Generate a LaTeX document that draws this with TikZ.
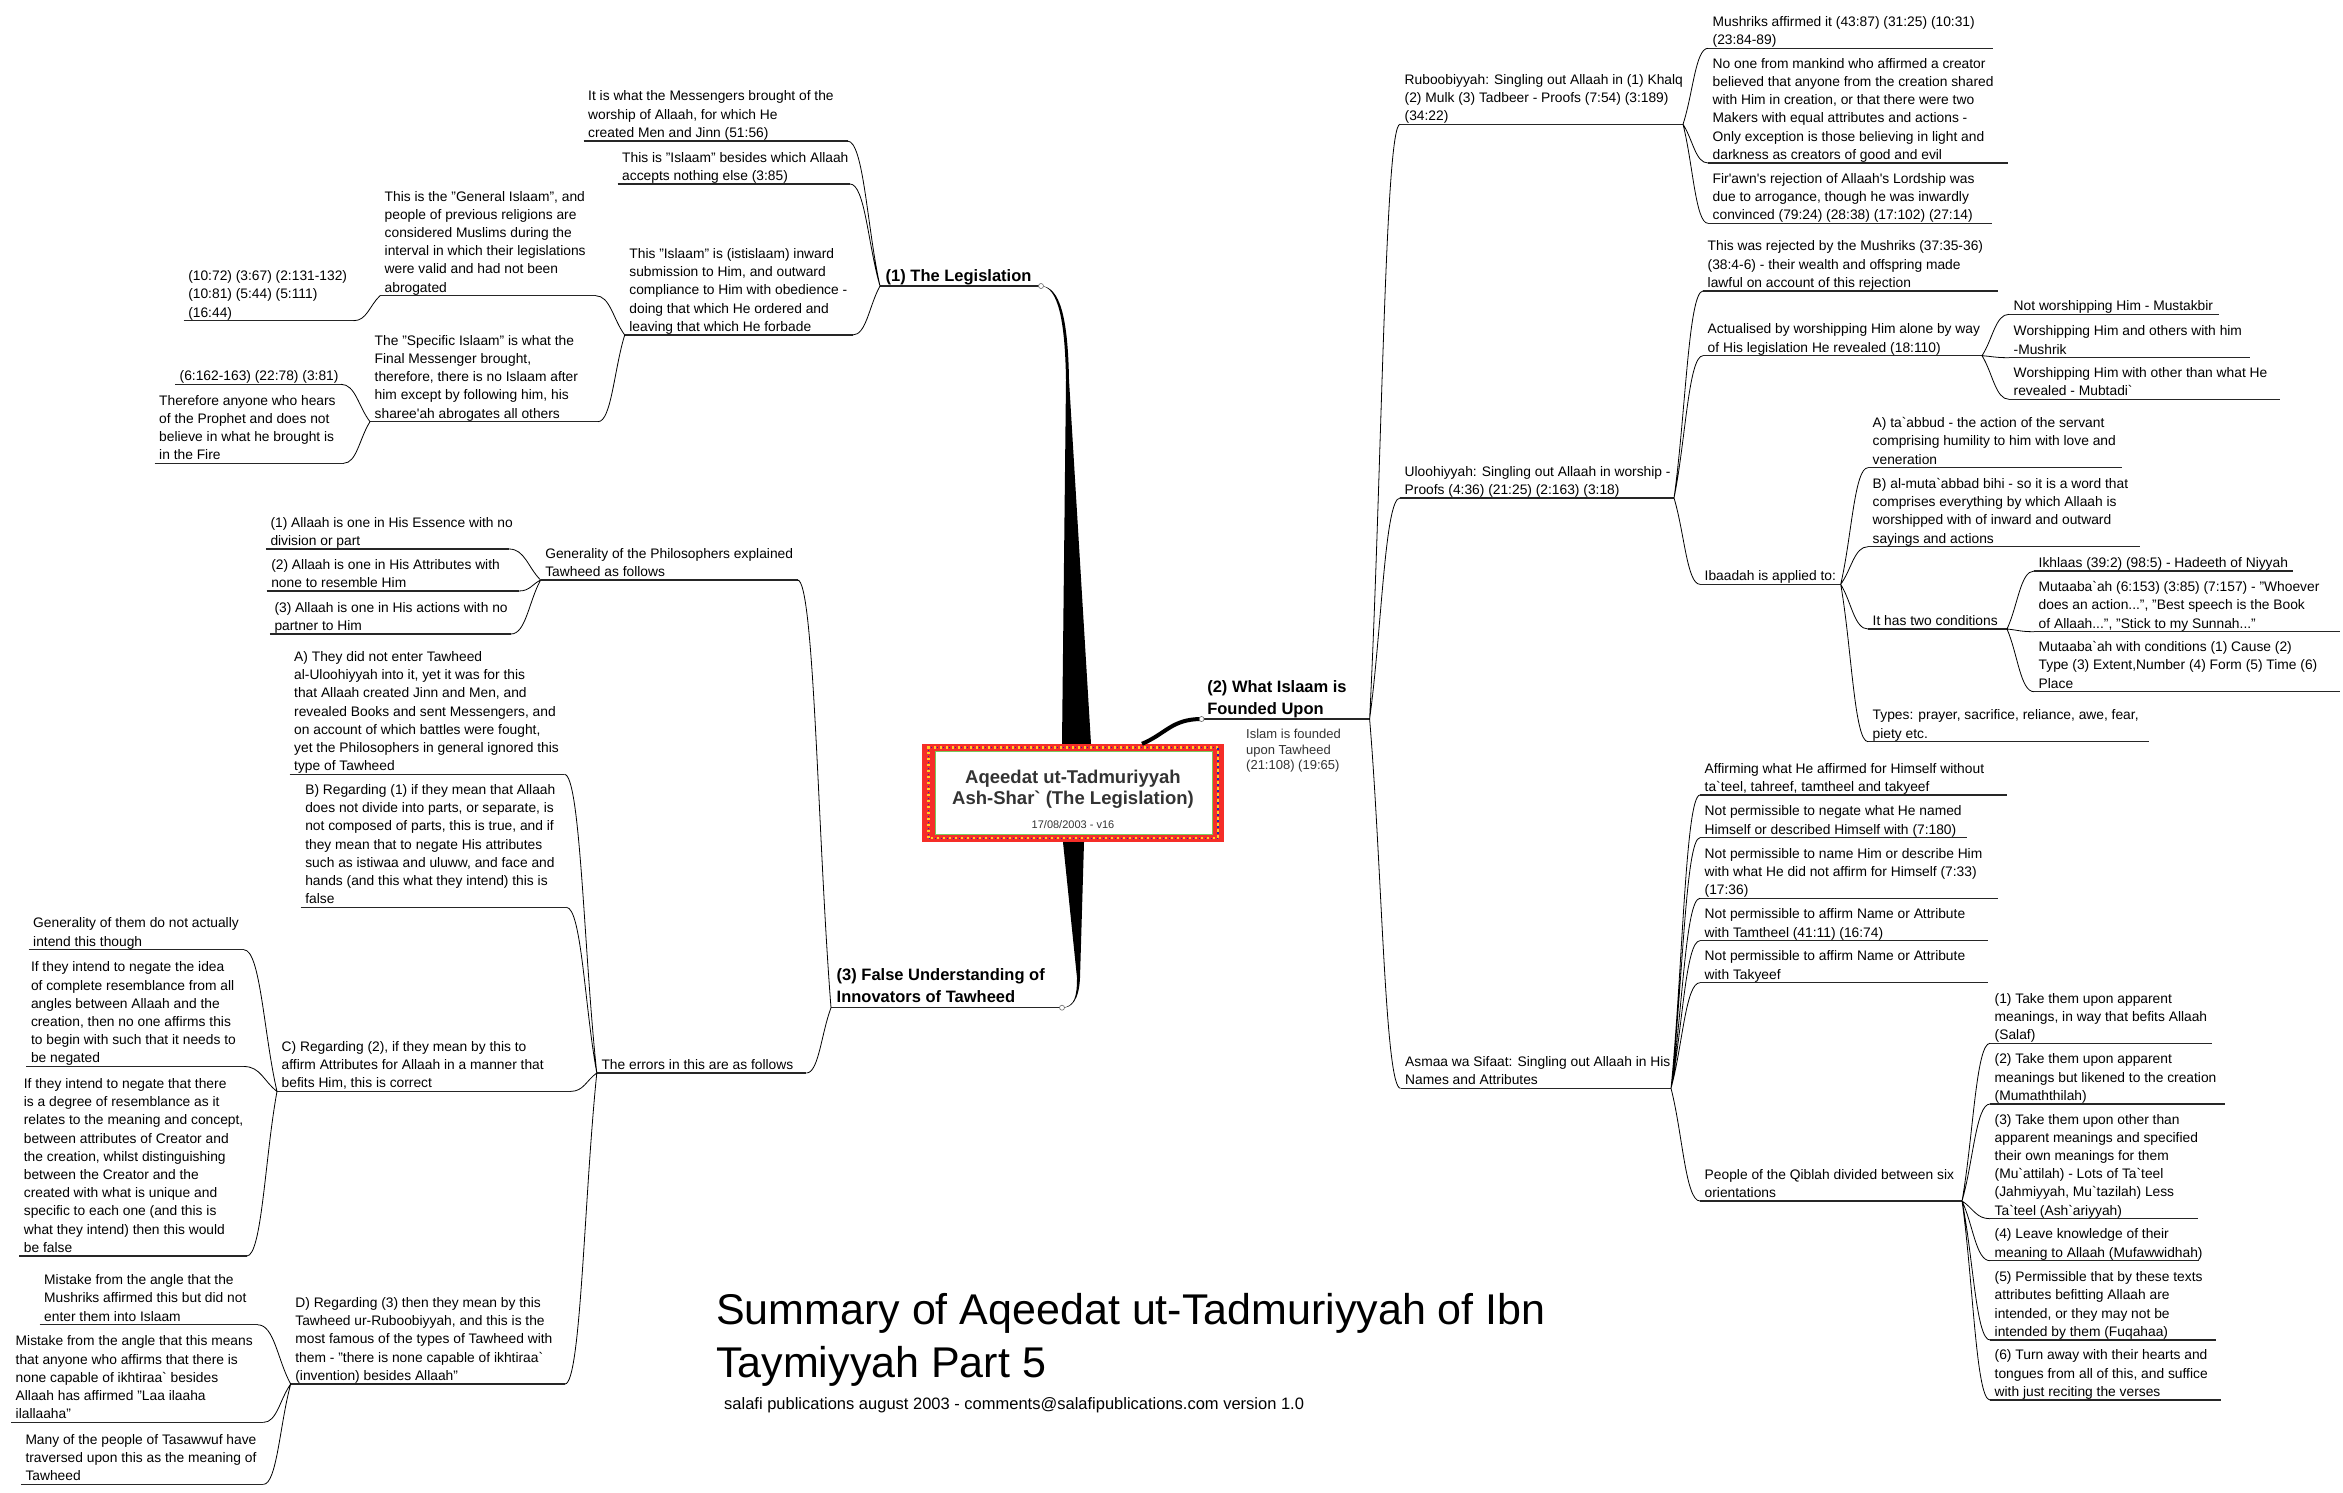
\documentclass[tikz,border=0pt]{standalone}
\usepackage{fontspec}
\setmainfont{Liberation Sans}
\usetikzlibrary{calc}
\newcommand\bq{\textasciigrave}
\newcommand\sq{\textquotesingle}
\newcommand\topicfont{\fontsize{13.8}{18.2}\selectfont}
\newcommand\branchfont{\bfseries\fontsize{16.5}{22}\selectfont}
\definecolor{framered}{RGB}{245,45,40}
\definecolor{framegold}{RGB}{255,205,40}
\definecolor{frameblue}{RGB}{40,40,170}
\definecolor{framegreen}{RGB}{120,200,90}
\tikzset{
  uline/.style={draw=black!85, line width=1.3pt},
  link/.style={draw=black, line width=0.8pt, to path={.. controls ($(\tikztostart)!0.4!(\tikztotarget)$) and ($(\tikztotarget)!0.5!(\tikztostart|-\tikztotarget)$) .. (\tikztotarget)}},
  underline/.style={append after command={(\tikzlastnode.south west) edge[uline] ($(\tikzlastnode.south west)+(#1,0)$) ($(\tikzlastnode.south west)+(#1,0)$) coordinate (\tikzlastnode-e)}},
  topic/.style={underline=#1, anchor=south west, align=left, inner xsep=4.5pt, inner ysep=0.3pt, font=\topicfont, execute at end node={\rule[-3.2pt]{0pt}{3.2pt}}},
  branch/.style={underline=#1, anchor=south west, align=left, inner xsep=5.5pt, inner ysep=0.7pt, font=\branchfont, execute at end node={\rule[-4pt]{0pt}{4pt}}},
  rootbox/.style={fill=framered, minimum width=302pt, minimum height=98pt, inner sep=0pt, align=center, text=black!80,
    font=\bfseries\fontsize{18.5}{21}\selectfont,
    path picture={
      \draw[framegold, line width=2.2pt, dash pattern=on 2.2pt off 3.8pt] ($(path picture bounding box.south west)+(6.5,-3.8)$) rectangle ($(path picture bounding box.north east)+(-6,3.5)$);
      \draw[frameblue, line width=1.4pt, dash pattern=on 1.4pt off 4.6pt, dash phase=-3pt] ($(path picture bounding box.south west)+(6.5,-3.8)$) rectangle ($(path picture bounding box.north east)+(-6,3.5)$);
      \draw[framegreen, fill=white, line width=0.8pt] ($(path picture bounding box.south west)+(13.4,-7.7)$) rectangle ($(path picture bounding box.north east)+(-12,7)$);
    }},
  knob/.style={fill=white, draw=black!60, line width=0.6pt},
}
\begin{document}
\begin{tikzpicture}[x=1pt, y=-1pt]
\useasboundingbox (0,0) rectangle (2343,1493);
\fill[white] (0,0) rectangle (2343,1493);

\node[rootbox] (root) at (1073,793) {\rule{0pt}{26.5pt}Aqeedat ut-Tadmuriyyah\\Ash-Shar\bq{} (The Legislation)\\[2.5pt]\mdseries\fontsize{11}{13}\selectfont 17/08/2003 - v16};

\node[branch=161] (leg) at (880,286) {(1) The Legislation};
\node[branch=168] (found) at (1201.6,719) {(2) What Islaam is\\Founded Upon};
\node[branch=231] (innov) at (831,1007.7) {(3) False Understanding of\\Innovators of Tawheed};
\node[anchor=north west, inner sep=0pt, align=left, text=black!80, font=\fontsize{13}{15.6}\selectfont] (note) at (1246,729) {Islam is founded\\upon Tawheed\\(21:108) (19:65)};

\node[topic=264] (worship) at (583.5,141) {It is what the Messengers brought of the\\worship of Allaah, for which He\\created Men and Jinn (51:56)};
\node[topic=232.5] (accepts) at (617.5,184) {This is "Islaam" besides which Allaah\\accepts nothing else (3:85)};
\node[topic=228] (istislaam) at (624.7,335) {This "Islaam" is (istislaam) inward\\submission to Him, and outward\\compliance to Him with obedience -\\doing that which He ordered and\\leaving that which He forbade};
\node[topic=215.6] (general) at (380,295.7) {This is the "General Islaam", and\\people of previous religions are\\considered Muslims during the\\interval in which their legislations\\were valid and had not been\\abrogated};
\node[topic=170] (genrefs) at (183.6,320.7) {(10:72) (3:67) (2:131-132)\\(10:81) (5:44) (5:111)\\(16:44)};
\node[topic=228] (specific) at (370,421.7) {The "Specific Islaam" is what the\\Final Messenger brought,\\therefore, there is no Islaam after\\him except by following him, his\\sharee\sq ah abrogates all others};
\node[topic=166] (specrefs) at (175,384.3) {(6:162-163) (22:78) (3:81)};
\node[topic=189] (fire) at (154.5,463.3) {Therefore anyone who hears\\of the Prophet and does not\\believe in what he brought is\\in the Fire};

\node[topic=283] (rub) at (1400,124.3) {Ruboobiyyah: Singling out Allaah in (1) Khalq\\(2) Mulk (3) Tadbeer - Proofs (7:54) (3:189)\\(34:22)};
\node[topic=285] (mush) at (1708,48.3) {Mushriks affirmed it (43:87) (31:25) (10:31)\\(23:84-89)};
\node[topic=300] (noone) at (1708,163) {No one from mankind who affirmed a creator\\believed that anyone from the creation shared\\with Him in creation, or that there were two\\Makers with equal attributes and actions -\\Only exception is those believing in light and\\darkness as creators of good and evil};
\node[topic=284] (firawn) at (1708,223.3) {Fir\sq awn\sq s rejection of Allaah\sq s Lordship was\\due to arrogance, though he was inwardly\\convinced (79:24) (28:38) (17:102) (27:14)};

\node[topic=274] (ulu) at (1400,498) {Uloohiyyah: Singling out Allaah in worship -\\Proofs (4:36) (21:25) (2:163) (3:18)};
\node[topic=295] (reject) at (1703,291) {This was rejected by the Mushriks (37:35-36)\\(38:4-6) - their wealth and offspring made\\lawful on account of this rejection};
\node[topic=279] (actual) at (1703,355.7) {Actualised by worshipping Him alone by way\\of His legislation He revealed (18:110)};
\node[topic=210] (mustakbir) at (2009,314.3) {Not worshipping Him - Mustakbir};
\node[topic=241] (mushrik) at (2009,357.7) {Worshipping Him and others with him\\-Mushrik};
\node[topic=270.6] (mubtadi) at (2009,399.3) {Worshipping Him with other than what He\\revealed - Mubtadi\bq};
\node[topic=140.7] (ibaadah) at (1700,584.3) {Ibaadah is applied to:};
\node[topic=254] (taabbud) at (1868,467.7) {A) ta\bq abbud - the action of the servant\\comprising humility to him with love and\\veneration};
\node[topic=271.6] (mutaabbad) at (1868,546.7) {B) al-muta\bq abbad bihi - so it is a word that\\comprises everything by which Allaah is\\worshipped with of inward and outward\\sayings and actions};
\node[topic=139] (twocond) at (1868,629) {It has two conditions};
\node[topic=259] (ikhlaas) at (2034,571) {Ikhlaas (39:2) (98:5) - Hadeeth of Niyyah};
\node[topic=306] (mutaabaah) at (2034,631.7) {Mutaaba\bq ah (6:153) (3:85) (7:157) - "Whoever\\does an action...", "Best speech is the Book\\of Allaah...", "Stick to my Sunnah..."};
\node[topic=306] (mutcond) at (2034,691.7) {Mutaaba\bq ah with conditions (1) Cause (2)\\Type (3) Extent,Number (4) Form (5) Time (6)\\Place};
\node[topic=280.5] (types) at (1868,741.7) {Types: prayer, sacrifice, reliance, awe, fear,\\piety etc.};

\node[topic=270.5] (asma) at (1400.5,1088.3) {Asmaa wa Sifaat: Singling out Allaah in His\\Names and Attributes};
\node[topic=306.6] (affirm) at (1700,795) {Affirming what He affirmed for Himself without\\ta\bq teel, tahreef, tamtheel and takyeef};
\node[topic=266.6] (negate) at (1700,837.7) {Not permissible to negate what He named\\Himself or described Himself with (7:180)};
\node[topic=298] (naming) at (1700,898.3) {Not permissible to name Him or describe Him\\with what He did not affirm for Himself (7:33)\\(17:36)};
\node[topic=287.6] (tamtheel) at (1700,940.7) {Not permissible to affirm Name or Attribute\\with Tamtheel (41:11) (16:74)};
\node[topic=287.6] (takyeef) at (1700,982.7) {Not permissible to affirm Name or Attribute\\with Takyeef};
\node[topic=262] (qiblah) at (1700,1201) {People of the Qiblah divided between six\\orientations};
\node[topic=222] (salaf) at (1990,1043.3) {(1) Take them upon apparent\\meanings, in way that befits Allaah\\(Salaf)};
\node[topic=234.6] (mumath) at (1990,1104) {(2) Take them upon apparent\\meanings but likened to the creation\\(Mumaththilah)};
\node[topic=208] (muattil) at (1990,1218.7) {(3) Take them upon other than\\apparent meanings and specified\\their own meanings for them\\(Mu\bq attilah) - Lots of Ta\bq teel\\(Jahmiyyah, Mu\bq tazilah) Less\\Ta\bq teel (Ash\bq ariyyah)};
\node[topic=208.6] (mufaw) at (1990,1260.7) {(4) Leave knowledge of their\\meaning to Allaah (Mufawwidhah)};
\node[topic=225.7] (fuqahaa) at (1990,1340) {(5) Permissible that by these texts\\attributes befitting Allaah are\\intended, or they may not be\\intended by them (Fuqahaa)};
\node[topic=231] (recite) at (1990,1400) {(6) Turn away with their hearts and\\tongues from all of this, and suffice\\with just reciting the verses};

\node[topic=257] (philo) at (540.6,580) {Generality of the Philosophers explained\\Tawheed as follows};
\node[topic=243.2] (essence) at (265.8,549) {(1) Allaah is one in His Essence with no\\division or part};
\node[topic=252.3] (attrib) at (266.6,591) {(2) Allaah is one in His Attributes with\\none to resemble Him};
\node[topic=241.2] (actions) at (269.8,634) {(3) Allaah is one in His actions with no\\partner to Him};
\node[topic=209.6] (errors) at (596.8,1073) {The errors in this are as follows};
\node[topic=274.9] (erra) at (289.5,774.3) {A) They did not enter Tawheed\\al-Uloohiyyah into it, yet it was for this\\that Allaah created Jinn and Men, and\\revealed Books and sent Messengers, and\\on account of which battles were fought,\\yet the Philosophers in general ignored this\\type of Tawheed};
\node[topic=265.7] (errb) at (300.6,907.3) {B) Regarding (1) if they mean that Allaah\\does not divide into parts, or separate, is\\not composed of parts, this is true, and if\\they mean that to negate His attributes\\such as istiwaa and uluww, and face and\\hands (and this what they intend) this is\\false};
\node[topic=293.5] (errc) at (277,1091.4) {C) Regarding (2), if they mean by this to\\affirm Attributes for Allaah in a manner that\\befits Him, this is correct};
\node[topic=274.3] (errd) at (290.7,1384) {D) Regarding (3) then they mean by this\\Tawheed ur-Ruboobiyyah, and this is the\\most famous of the types of Tawheed with\\them - "there is none capable of ikhtiraa\bq\\(invention) besides Allaah"};
\node[topic=215.5] (notintend) at (28.5,949.8) {Generality of them do not actually\\intend this though};
\node[topic=217.7] (complete) at (26.3,1066.5) {If they intend to negate the idea\\of complete resemblance from all\\angles between Allaah and the\\creation, then no one affirms this\\to begin with such that it needs to\\be negated};
\node[topic=227.6] (degree) at (19.2,1256) {If they intend to negate that there\\is a degree of resemblance as it\\relates to the meaning and concept,\\between attributes of Creator and\\the creation, whilst distinguishing\\between the Creator and the\\created with what is unique and\\specific to each one (and this is\\what they intend) then this would\\be false};
\node[topic=218.3] (mistake) at (39.5,1324.8) {Mistake from the angle that the\\Mushriks affirmed this but did not\\enter them into Islaam};
\node[topic=252.3] (laailaaha) at (11,1422.4) {Mistake from the angle that this means\\that anyone who affirms that there is\\none capable of ikhtiraa\bq{} besides\\Allaah has affirmed "Laa ilaaha\\ilallaaha"};
\node[topic=242.5] (tasawwuf) at (20.8,1484.4) {Many of the people of Tasawwuf have\\traversed upon this as the meaning of\\Tawheed};

\node[anchor=north west, inner sep=0pt, align=left, font=\fontsize{43}{53}\selectfont] (title) at (716,1293.5) {Summary of Aqeedat ut-Tadmuriyyah of Ibn\\Taymiyyah Part 5};
\node[anchor=north west, inner sep=0pt, font=\fontsize{16.5}{19}\selectfont] (credit) at (724,1397.3) {salafi publications august 2003 - comments@salafipublications.com version 1.0};

\fill[black] (leg-e) .. controls ($(leg-e)+(17,1)$) and ($(leg-e)+(24,34)$) .. ($(leg-e)+(25,94)$) -- ($(root.north)+(-11,0)$) -- ($(root.north)+(18,0)$) -- ($(leg-e)+(28,94)$) .. controls ($(leg-e)+(27,32)$) and ($(leg-e)+(19,0.5)$) .. (leg-e) -- cycle;
\fill[black] (innov-e) .. controls ($(innov-e)+(13,-1)$) and ($(innov-e)+(15,-12)$) .. ($(innov-e)+(15,-30)$) -- ($(root.south)+(-10,0)$) -- ($(root.south)+(11,0)$) -- ($(innov-e)+(18,-30)$) .. controls ($(innov-e)+(17,-8)$) and ($(innov-e)+(10,0.5)$) .. (innov-e) -- cycle;
\draw[link, line width=4pt] ($(root.north)+(69,0)$) to (found.south west);
\draw[knob] (leg-e) circle (2.5) (found.south west) circle (2.5) (innov-e) circle (2.5);

\draw[link] (leg.south west) to (worship-e) (leg.south west) to (accepts-e) (leg.south west) to (istislaam-e);
\draw[link] (istislaam.south west) to (general-e) (istislaam.south west) to (specific-e);
\draw[link] (general.south west) to (genrefs-e);
\draw[link] (specific.south west) to (specrefs-e) (specific.south west) to (fire-e);

\draw[link] (found-e) to (rub.south west) (found-e) to (ulu.south west) (found-e) to (asma.south west);
\draw[link] (rub-e) to (mush.south west) (rub-e) to (noone.south west) (rub-e) to (firawn.south west);
\draw[link] (ulu-e) to (reject.south west) (ulu-e) to (actual.south west) (ulu-e) to (ibaadah.south west);
\draw[link] (actual-e) to (mustakbir.south west) (actual-e) to (mushrik.south west) (actual-e) to (mubtadi.south west);
\draw[link] (ibaadah-e) to (taabbud.south west) (ibaadah-e) to (mutaabbad.south west) (ibaadah-e) to (twocond.south west) (ibaadah-e) to (types.south west);
\draw[link] (twocond-e) to (ikhlaas.south west) (twocond-e) to (mutaabaah.south west) (twocond-e) to (mutcond.south west);
\draw[link] (asma-e) to (affirm.south west) (asma-e) to (negate.south west) (asma-e) to (naming.south west) (asma-e) to (tamtheel.south west) (asma-e) to (takyeef.south west) (asma-e) to (qiblah.south west);
\draw[link] (qiblah-e) to (salaf.south west) (qiblah-e) to (mumath.south west) (qiblah-e) to (muattil.south west) (qiblah-e) to (mufaw.south west) (qiblah-e) to (fuqahaa.south west) (qiblah-e) to (recite.south west);

\draw[link] (innov.south west) to (philo-e) (innov.south west) to (errors-e);
\draw[link] (philo.south west) to (essence-e) (philo.south west) to (attrib-e) (philo.south west) to (actions-e);
\draw[link] (errors.south west) to (erra-e) (errors.south west) to (errb-e) (errors.south west) to (errc-e) (errors.south west) to (errd-e);
\draw[link] (errc.south west) to (notintend-e) (errc.south west) to (complete-e) (errc.south west) to (degree-e);
\draw[link] (errd.south west) to (mistake-e) (errd.south west) to (laailaaha-e) (errd.south west) to (tasawwuf-e);
\end{tikzpicture}
\end{document}
